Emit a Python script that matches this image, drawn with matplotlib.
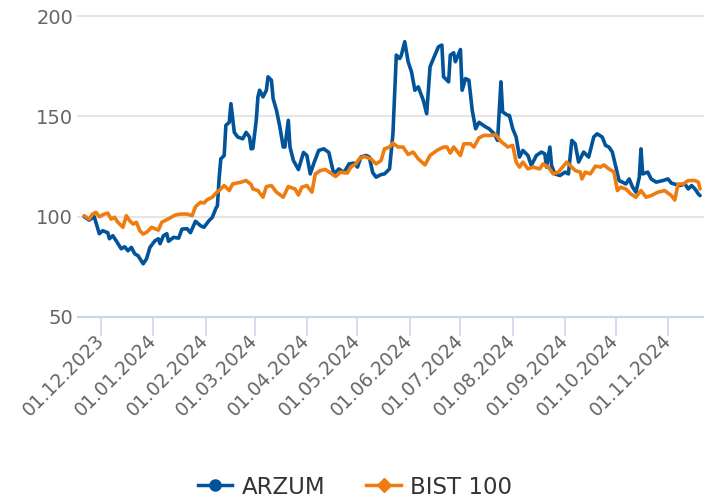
import matplotlib
matplotlib.use('Agg')
import matplotlib.pyplot as plt
import matplotlib.dates as mdates
from matplotlib.lines import Line2D
import pandas as pd

series_names = ['ARZUM', 'BIST 100']
y_ticks = [50, 100, 150, 200]

arzum_dates = [
    '2023-11-21', '2023-11-24', '2023-11-27', '2023-11-30', '2023-12-02', '2023-12-05', '2023-12-06',
    '2023-12-08', '2023-12-10', '2023-12-13', '2023-12-15', '2023-12-17', '2023-12-19', '2023-12-21',
    '2023-12-23', '2023-12-26', '2023-12-28', '2023-12-30', '2024-01-02', '2024-01-04', '2024-01-05',
    '2024-01-07', '2024-01-09', '2024-01-10', '2024-01-13', '2024-01-16', '2024-01-18', '2024-01-21',
    '2024-01-23', '2024-01-26', '2024-01-29', '2024-01-31', '2024-02-03', '2024-02-05', '2024-02-07',
    '2024-02-08', '2024-02-09', '2024-02-10', '2024-02-12', '2024-02-13', '2024-02-15', '2024-02-16',
    '2024-02-18', '2024-02-20', '2024-02-23', '2024-02-25', '2024-02-27', '2024-02-28', '2024-02-29',
    '2024-03-02', '2024-03-03', '2024-03-04', '2024-03-06', '2024-03-08', '2024-03-09', '2024-03-11',
    '2024-03-12', '2024-03-14', '2024-03-16', '2024-03-18', '2024-03-19', '2024-03-21', '2024-03-22',
    '2024-03-24', '2024-03-27', '2024-03-30', '2024-04-01', '2024-04-03', '2024-04-05', '2024-04-08',
    '2024-04-11', '2024-04-14', '2024-04-16', '2024-04-17', '2024-04-20', '2024-04-23', '2024-04-26',
    '2024-04-29', '2024-05-01', '2024-05-03', '2024-05-06', '2024-05-08', '2024-05-10', '2024-05-12',
    '2024-05-15', '2024-05-17', '2024-05-20', '2024-05-22', '2024-05-24', '2024-05-26', '2024-05-27',
    '2024-05-29', '2024-05-31', '2024-06-02', '2024-06-04', '2024-06-06', '2024-06-09', '2024-06-11',
    '2024-06-13', '2024-06-15', '2024-06-18', '2024-06-20', '2024-06-21', '2024-06-24', '2024-06-25',
    '2024-06-27', '2024-06-28', '2024-07-01', '2024-07-02', '2024-07-04', '2024-07-06', '2024-07-08',
    '2024-07-10', '2024-07-12', '2024-07-16', '2024-07-18', '2024-07-21', '2024-07-23', '2024-07-25',
    '2024-07-26', '2024-07-29', '2024-07-30', '2024-08-01', '2024-08-03', '2024-08-05', '2024-08-07',
    '2024-08-10', '2024-08-12', '2024-08-15', '2024-08-18', '2024-08-20', '2024-08-21', '2024-08-23',
    '2024-08-24', '2024-08-26', '2024-08-29', '2024-09-01', '2024-09-03', '2024-09-05', '2024-09-07',
    '2024-09-09', '2024-09-12', '2024-09-15', '2024-09-18', '2024-09-20', '2024-09-23', '2024-09-25',
    '2024-09-27', '2024-09-29', '2024-10-03', '2024-10-05', '2024-10-07', '2024-10-09', '2024-10-11',
    '2024-10-13', '2024-10-15', '2024-10-16', '2024-10-17', '2024-10-20', '2024-10-22', '2024-10-25',
    '2024-10-29', '2024-11-01', '2024-11-03', '2024-11-08', '2024-11-11', '2024-11-13', '2024-11-15',
    '2024-11-17', '2024-11-19', '2024-11-20',
]
arzum_values = [
    100, 98.3, 100, 91.5, 93, 92, 89,
    90.5, 88, 84, 85, 83, 84.7, 81.5,
    80.5, 76.5, 79, 84.7, 88, 89, 86.5,
    90.5, 91.5, 87.7, 89.7, 89.3, 93.8, 94,
    92, 97.7, 95.5, 94.7, 98, 99.7, 104,
    105.5, 119, 128.8, 130.5, 145.5, 147, 156.3,
    142, 139.7, 138.8, 142, 139.7, 133.8, 134,
    148, 159.7, 163, 159.7, 163, 169.7, 168,
    158.8, 153, 144.7, 134.7, 134.7, 148, 134.7,
    128, 123.5, 132, 130.5, 121.3, 126.3, 133,
    133.8, 132, 124.7, 121.3, 123.8, 122, 126.3,
    126.7, 124.7, 129.7, 130.5, 129.7, 122, 119.7,
    121, 121.3, 123.8, 141.3, 180.5, 178.8, 180.5,
    187.2, 177.2, 172.2, 163, 164.7, 158, 151.3,
    174.7, 178.8, 184.7, 185.5, 169.7, 167.2, 180.5,
    181.7, 177.2, 183.3, 163, 168.8, 168, 153,
    143.8, 147, 144.7, 143.8, 141.3, 138, 167.2,
    152.2, 150.5, 150.5, 143.8, 139.7, 129.7, 133,
    130.5, 125.5, 130.5, 132.2, 131.3, 124.7, 134.7,
    125.5, 121.3, 120.5, 122.2, 121.3, 138, 136.3,
    127.2, 132.2, 129.7, 139.7, 141.3, 139.7, 135.5,
    134.7, 132.2, 118, 117.2, 116.3, 118.8, 114.7,
    112.2, 119.7, 133.8, 121.3, 122.2, 118.8, 117.2,
    118, 118.8, 116.7, 115.5, 116.3, 113.8, 115.5,
    113.8, 111.3, 110.5,
]

bist_dates = [
    '2023-11-21', '2023-11-24', '2023-11-26', '2023-11-28', '2023-11-30', '2023-12-03', '2023-12-05',
    '2023-12-07', '2023-12-09', '2023-12-11', '2023-12-14', '2023-12-16', '2023-12-18', '2023-12-20',
    '2023-12-22', '2023-12-24', '2023-12-26', '2023-12-28', '2023-12-31', '2024-01-04', '2024-01-06',
    '2024-01-09', '2024-01-14', '2024-01-17', '2024-01-21', '2024-01-24', '2024-01-26', '2024-01-29',
    '2024-01-31', '2024-02-02', '2024-02-05', '2024-02-07', '2024-02-10', '2024-02-12', '2024-02-15',
    '2024-02-17', '2024-02-22', '2024-02-25', '2024-02-28', '2024-02-29', '2024-03-03', '2024-03-06',
    '2024-03-08', '2024-03-11', '2024-03-14', '2024-03-18', '2024-03-21', '2024-03-25', '2024-03-27',
    '2024-03-29', '2024-04-01', '2024-04-04', '2024-04-06', '2024-04-09', '2024-04-12', '2024-04-15',
    '2024-04-18', '2024-04-21', '2024-04-25', '2024-04-27', '2024-04-30', '2024-05-02', '2024-05-05',
    '2024-05-09', '2024-05-12', '2024-05-15', '2024-05-17', '2024-05-20', '2024-05-22', '2024-05-25',
    '2024-05-28', '2024-05-31', '2024-06-03', '2024-06-06', '2024-06-10', '2024-06-13', '2024-06-17',
    '2024-06-21', '2024-06-23', '2024-06-25', '2024-06-27', '2024-07-01', '2024-07-03', '2024-07-07',
    '2024-07-09', '2024-07-12', '2024-07-15', '2024-07-19', '2024-07-22', '2024-07-25', '2024-07-28',
    '2024-07-29', '2024-08-01', '2024-08-03', '2024-08-05', '2024-08-07', '2024-08-10', '2024-08-13',
    '2024-08-17', '2024-08-19', '2024-08-22', '2024-08-25', '2024-08-28', '2024-09-02', '2024-09-04',
    '2024-09-07', '2024-09-10', '2024-09-11', '2024-09-13', '2024-09-16', '2024-09-19', '2024-09-22',
    '2024-09-24', '2024-09-27', '2024-09-30', '2024-10-02', '2024-10-04', '2024-10-07', '2024-10-10',
    '2024-10-13', '2024-10-16', '2024-10-19', '2024-10-22', '2024-10-26', '2024-10-30', '2024-11-03',
    '2024-11-05', '2024-11-07', '2024-11-10', '2024-11-13', '2024-11-17', '2024-11-19', '2024-11-20',
]
bist_values = [
    100.5, 98.8, 101.3, 102.2, 100, 101.3, 101.8,
    98.8, 99.7, 97.2, 94.7, 100.5, 98, 96.3,
    97.2, 93, 91.3, 92.2, 94.7, 93.3, 97.2,
    98.5, 100.8, 101.3, 101.3, 100.5, 105, 107.2,
    106.8, 108.5, 109.7, 111.7, 113.8, 115.5, 113,
    116.3, 117.2, 118, 116, 113.8, 113, 109.7,
    115, 115.5, 112.2, 109.7, 115, 113.8, 110.8,
    114.7, 115.5, 112.2, 121.3, 123, 123.5, 121.8,
    120, 122.2, 121.7, 124.7, 126.3, 128.8, 130,
    128.8, 126.3, 128, 133.8, 134.7, 136.7, 134.7,
    134.7, 131, 132.2, 128.8, 125.8, 130.5, 133,
    134.7, 134.7, 131.7, 134.7, 130.5, 136.3, 136.3,
    134.7, 139.3, 140.5, 140.5, 140.8, 137.5, 135.5,
    134.7, 135.5, 127.2, 124.7, 127.2, 123.8, 124.7,
    123.8, 126.3, 124.7, 121.3, 122.2, 127.2, 125.5,
    123, 122.2, 118.8, 122.2, 121.3, 125.2, 124.7,
    125.8, 123.8, 122.2, 113, 114.7, 113.8, 111.3,
    109.7, 113, 109.7, 110.5, 112.2, 113, 110.5,
    108.3, 116.3, 116.3, 118, 118, 117.2, 113.8,
]

BLUE = '#01539a'
ORANGE = '#ef7c0e'
W, H = 704, 497

fig = plt.figure(figsize=(W / 100, H / 100), dpi=100)
ax = fig.add_axes([78 / W, (H - 317) / H, 626 / W, 301 / H])

ax.plot(pd.to_datetime(arzum_dates), arzum_values, color=BLUE, lw=2.6,
        solid_joinstyle='round', solid_capstyle='round', zorder=3)
ax.plot(pd.to_datetime(bist_dates), bist_values, color=ORANGE, lw=2.6,
        solid_joinstyle='round', solid_capstyle='round', zorder=4)

ax.set_ylim(50, 200)
ax.set_xlim(pd.Timestamp('2023-11-17 09:00'), pd.Timestamp('2024-11-22 08:00'))
ax.set_yticks(y_ticks)
ax.yaxis.grid(True, color='#e6e6e6', lw=1.5)
for gl in ax.get_ygridlines():
    gl.set_clip_on(False)
ax.set_axisbelow(True)
for s in ['top', 'right', 'left']:
    ax.spines[s].set_visible(False)
ax.spines['bottom'].set_color('#ccd6eb')
ax.spines['bottom'].set_linewidth(1.5)
ax.spines['bottom'].set_zorder(2)

ax.tick_params(axis='y', length=0, pad=3.5, labelsize=14, labelcolor='#666666')
ax.tick_params(axis='x', length=13.5, width=1.2, color='#ccd6eb', labelsize=13.5,
               labelcolor='#666666', pad=1)
ax.xaxis.set_major_locator(mdates.MonthLocator(bymonthday=1))
ax.xaxis.set_major_formatter(mdates.DateFormatter('%d.%m.%Y'))
for lab in ax.get_xticklabels():
    lab.set_rotation(45)
    lab.set_ha('right')
    lab.set_va('center')
    lab.set_rotation_mode('anchor')

handles = [
    Line2D([], [], color=BLUE, lw=2.5, marker='o', ms=8),
    Line2D([], [], color=ORANGE, lw=2.5, marker='D', ms=7),
]
leg = fig.legend(handles=handles, labels=series_names, loc='center',
                 bbox_to_anchor=(355 / W, 1 - 487 / H), ncol=2, frameon=False,
                 fontsize=16.5, handlelength=1.5, handletextpad=0.4, columnspacing=1.8)
for t in leg.get_texts():
    t.set_color('#333333')

fig.savefig('out.png', dpi=100)
